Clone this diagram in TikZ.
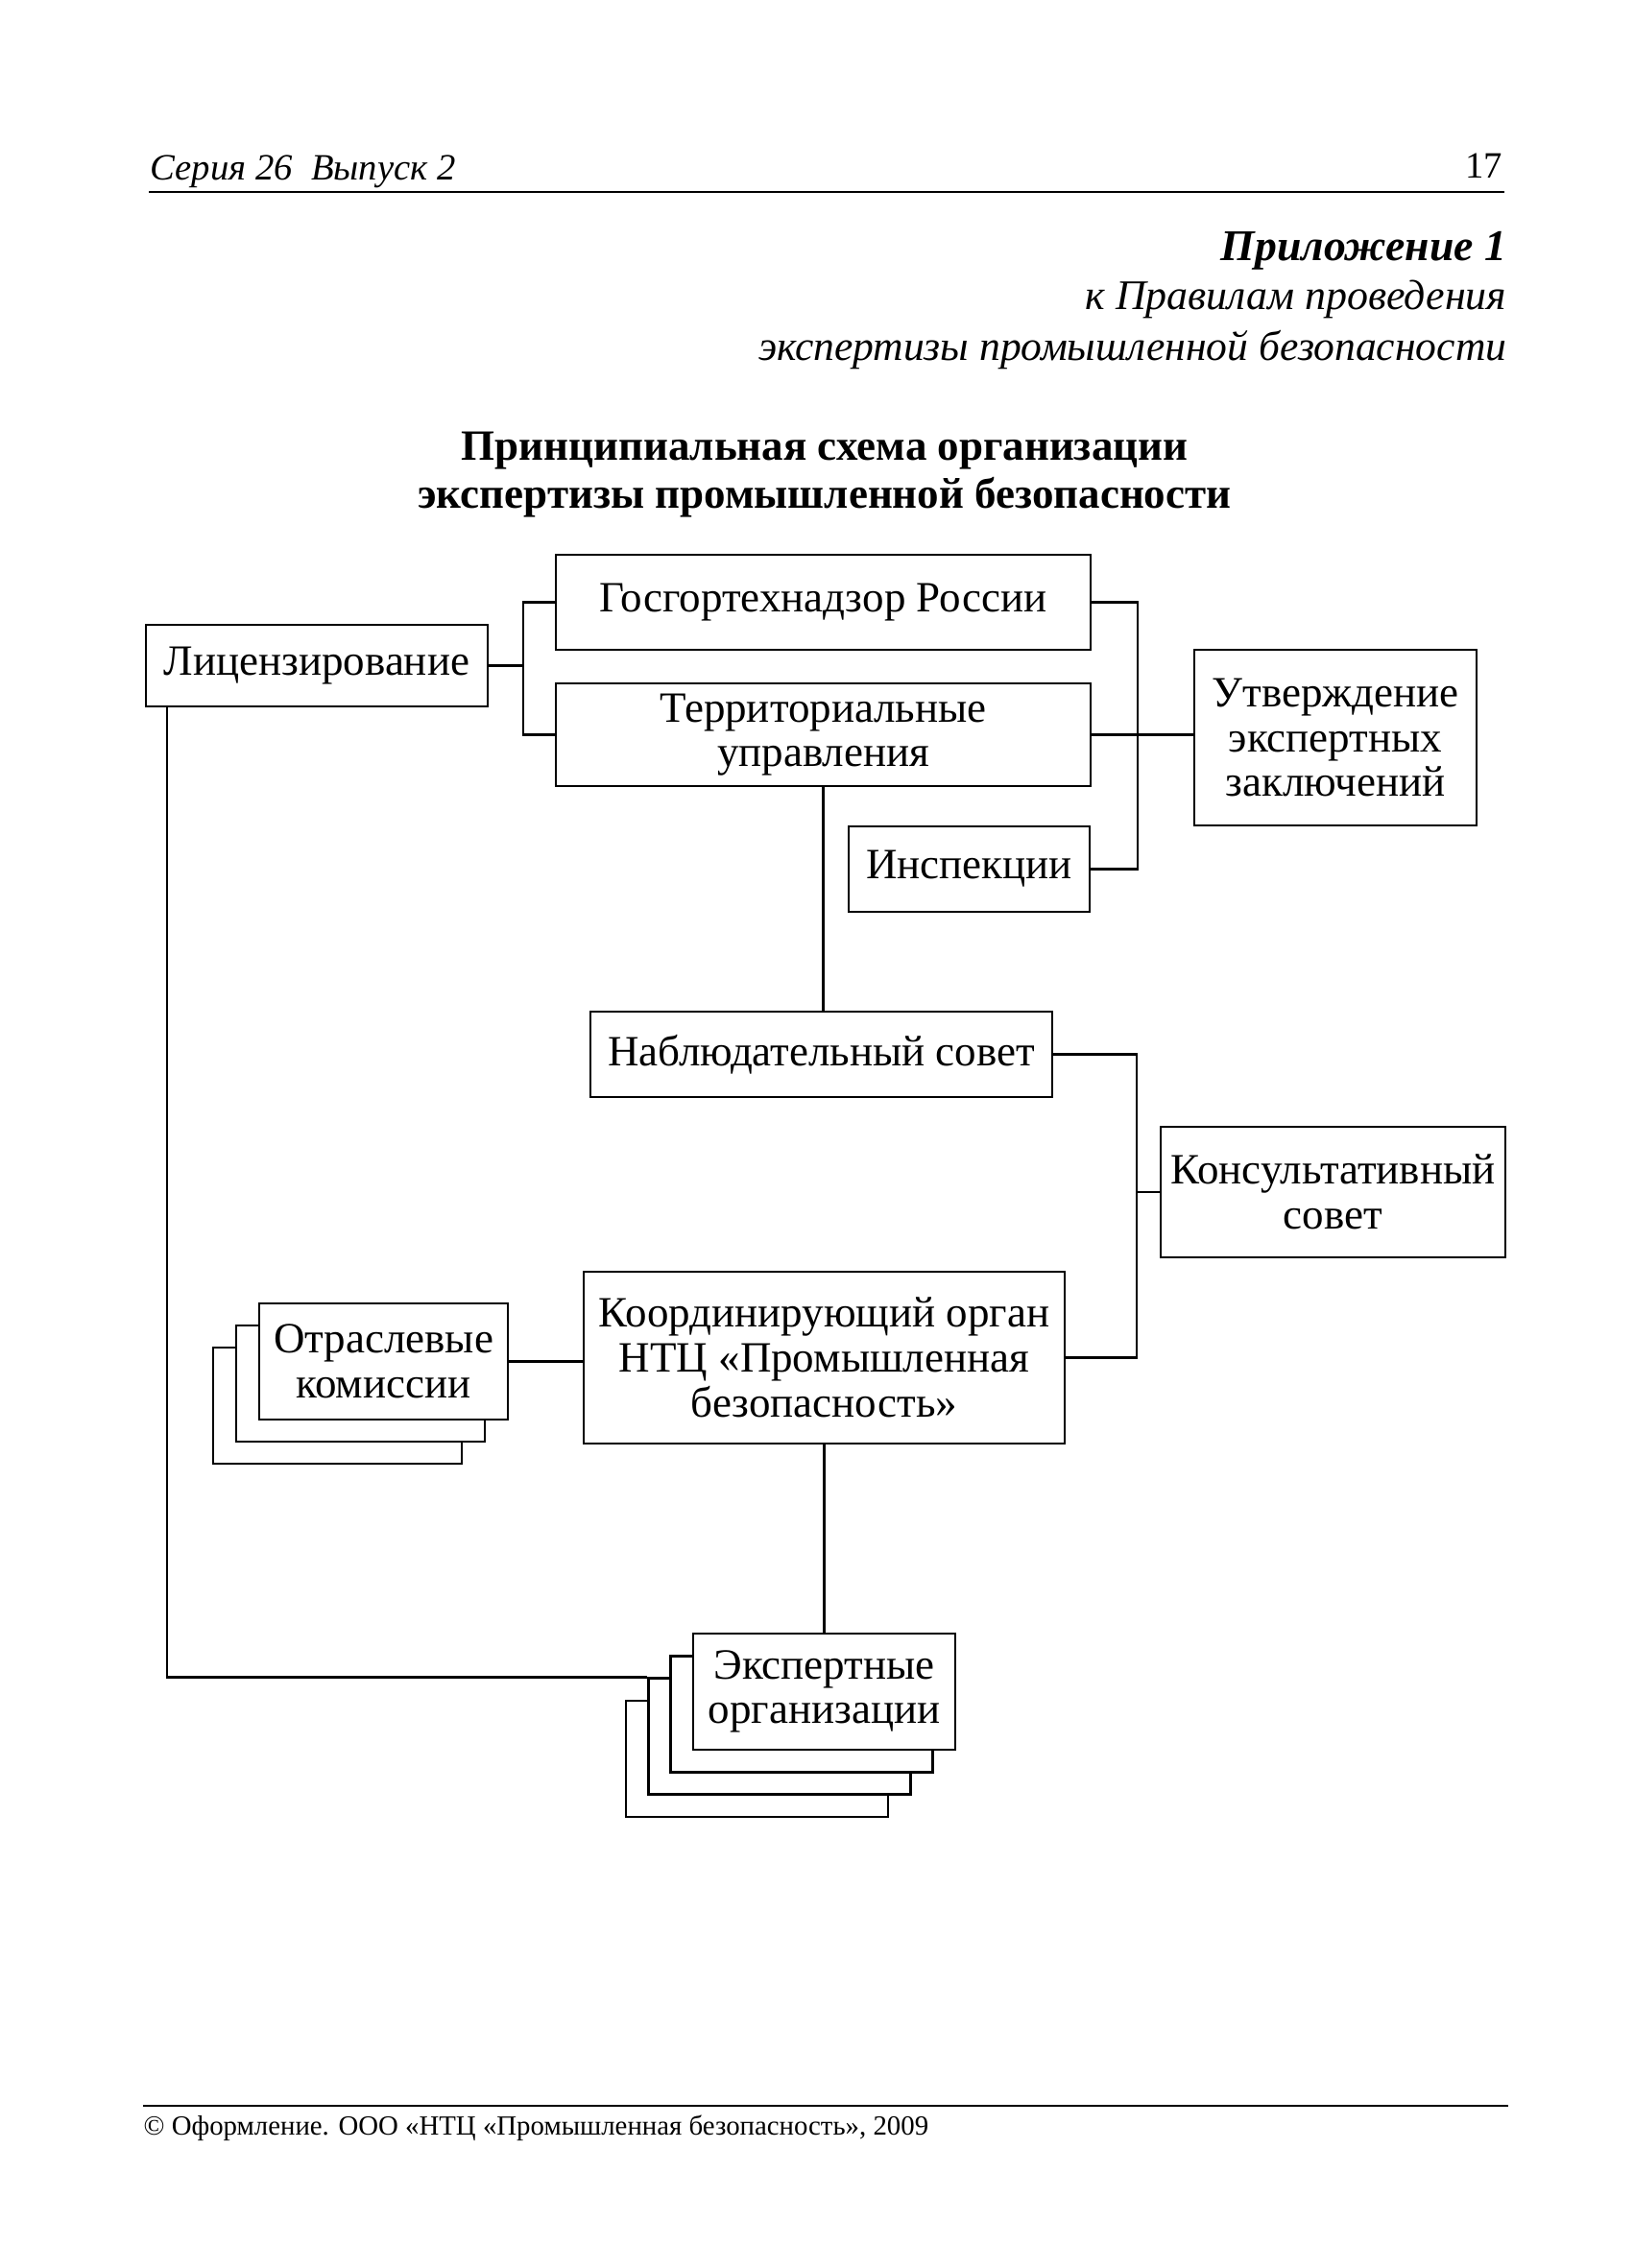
\documentclass[tikz,border=0pt]{standalone}
\usepackage{fontspec}
\setmainfont{Liberation Serif}
\usepackage{tikz}
\usetikzlibrary{positioning}

\newcommand\boxfont{\fontsize{12.8}{13.3}\selectfont}
\tikzset{
  box/.style={draw, line width=0.7pt, align=center, inner sep=0pt, fill=white, font=\boxfont},
  link/.style={line width=0.7pt},
}

\begin{document}
\begin{tikzpicture}[x=1mm, y=-1mm]
  \useasboundingbox (0, 0) rectangle (170.1, 236.3);

  % page head
  \node [anchor=base west, inner sep=0pt, font=\fontsize{11}{13}\itshape] (series) at (15.6, 18.8) {Серия 26\enspace Выпуск 2};
  \node [anchor=base east, inner sep=0pt, font=\fontsize{11}{13}\selectfont] (page) at (156.6, 18.6) {17};
  \draw [link] (15.5, 20.0) -- (156.7, 20.0);

  \node [anchor=base east, inner sep=0pt, font=\fontsize{13}{15}\bfseries\itshape] (app) at (157.0, 27.2) {Приложение 1};
  \node [anchor=base east, inner sep=0pt, font=\fontsize{12.5}{15}\itshape] (app2) at (157.0, 32.3) {к Правилам проведения};
  \node [anchor=base east, inner sep=0pt, font=\fontsize{12.4}{15}\itshape] (app3) at (157.0, 37.6) {экспертизы промышленной безопасности};

  \node [anchor=base, inner sep=0pt, font=\fontsize{12.8}{15}\bfseries] (title1) at (85.9, 48.0) {Принципиальная схема организации};
  \node [anchor=base, inner sep=0pt, font=\fontsize{12.8}{15}\bfseries] (title2) at (85.9, 53.0) {экспертизы промышленной безопасности};

  % boxes
  \node [box, minimum width=35.6mm, minimum height=8.5mm] (lic) at (33.0, 69.35) {Лицензирование};
  \node [box, minimum width=55.7mm, minimum height=9.9mm] (gos) at (85.75, 62.75) {Госгортехнадзор России};
  \node [box, minimum width=55.7mm, minimum height=10.7mm] (terr) at (85.75, 76.55) {Территориальные\\управления};
  \node [box, minimum width=29.4mm, minimum height=18.3mm] (utv) at (139.1, 76.85) {Утверждение\\экспертных\\заключений};
  \node [box, minimum width=25.1mm, minimum height=8.9mm] (insp) at (100.95, 90.55) {Инспекции};
  \node [box, minimum width=48.1mm, minimum height=8.9mm] (nabl) at (85.55, 109.85) {Наблюдательный совет};
  \node [box, minimum width=35.9mm, minimum height=13.6mm] (kons) at (138.85, 124.2) {Консультативный\\совет};
  \node [box, minimum width=50.1mm, minimum height=17.9mm] (koord) at (85.85, 141.45) {Координирующий орган\\НТЦ «Промышленная\\безопасность»};

  \foreach \i in {2,1}
    \node [box, minimum width=25.9mm, minimum height=12.1mm] (otr\i) at ({39.95-2.4*\i}, {141.85+2.3*\i}) {};
  \node [box, minimum width=25.9mm, minimum height=12.1mm] (otr) at (39.95, 141.85) {Отраслевые\\комиссии};

  \foreach \i in {3,2,1}
    \node [box, minimum width=27.3mm, minimum height=12.1mm] (eksp\i) at ({85.85-2.33*\i}, {176.25+2.33*\i}) {};
  \node [box, minimum width=27.3mm, minimum height=12.1mm] (eksp) at (85.85, 176.25) {Экспертные\\организации};

  % links
  \coordinate (lbr) at ([xshift=-3.3mm]gos.west);
  \coordinate (rbr) at ([xshift=8.7mm]nabl.east);

  \draw [link] (gos.west) -- (lbr) |- (terr.west);
  \draw [link] (lic.east) -- (lic.east -| lbr);
  \draw [link] (gos.east) -- ++(4.8, 0) |- (insp.east);
  \draw [link] (terr.east) -- (terr.east -| utv.west);
  \draw [link] (terr.south) -- (terr.south |- nabl.north);
  \draw [link] (nabl.east) -- (rbr) |- (koord.east);
  \draw [link] (kons.west) -- (kons.west -| rbr);
  \draw [link] (otr.east) -- (otr.east -| koord.west);
  \draw [link] (koord.south) -- (koord.south |- eksp.north);
  \draw [link] ([xshift=2.3mm]lic.south west) |- (eksp2.north west);

  % page foot
  \draw [link] (14.9, 219.4) -- (157.1, 219.4);
  \node [anchor=base west, inner sep=0pt, font=\fontsize{8.2}{10}\selectfont] (foot) at (14.9, 222.4) {© Оформление. ООО «НТЦ «Промышленная безопасность», 2009};
\end{tikzpicture}
\end{document}
